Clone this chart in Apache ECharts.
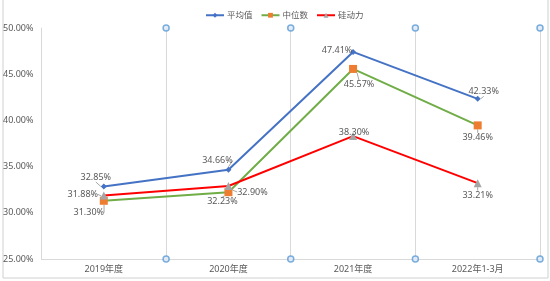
<!DOCTYPE html>
<html><head><meta charset="utf-8">
<script src="https://cdn.jsdelivr.net/npm/echarts@6/dist/echarts.min.js"></script>
<style>html,body{margin:0;padding:0;background:#fff}#c{width:550px;height:281px}</style>
</head><body><div id="c"></div>
<script>
const categories = ['2019年度', '2020年度', '2021年度', '2022年1-3月'];
const avgValues = [32.85, 34.66, 47.41, 42.33];
const medianValues = [31.30, 32.23, 45.57, 39.46];
const siliconValues = [31.88, 32.90, 38.30, 33.21];
const seriesNames = ['平均值', '中位数', '硅动力'];
const yTicks = { min: 25, max: 50, interval: 5 };
// selection handles (category boundary index, value)
const handleBoundaries = [1, 2, 3, 4];

// label offsets (style only)
const labelOffsets = {
  '平均值': [[-8,-9],[-11,-9],[-16,-1],[6,-7]],
  '中位数': [[-15,12],[-6,9],[6,16],[0,12]],
  '硅动力': [[-21,-1],[24,6],[1,-4],[0,12]]
};

const font = '"Noto Sans", "Noto Sans CJK SC", sans-serif';
const chart = echarts.init(document.getElementById('c'));

function lineSeries(name, data, lineColor, markColor, symbol, size) {
  return {
    name, type: 'line', data, xAxisIndex: 0, yAxisIndex: 0,
    symbol, symbolSize: size,
    lineStyle: { color: lineColor, width: 2 },
    itemStyle: { color: markColor },
    label: {
      show: true, position: 'inside', color: '#595959', fontSize: 9, fontFamily: font,
      formatter: p => p.value.toFixed(2) + '%'
    },
    labelLine: { show: true, lineStyle: { color: '#A6A6A6', width: 1 } },
    labelLayout: p => {
      const o = labelOffsets[name][p.dataIndex];
      return { dx: o[0], dy: o[1] };
    },
    emphasis: { disabled: true },
    z: 3
  };
}

const handleData = [];
handleBoundaries.forEach(b => { handleData.push([b, yTicks.max]); handleData.push([b, yTicks.min]); });

chart.setOption({
  animation: false,
  textStyle: { fontFamily: font },
  legend: {
    data: seriesNames, top: 6, left: 200,
    itemWidth: 18, itemHeight: 6, itemGap: 8,
    textStyle: { fontSize: 8.5, color: '#595959', fontFamily: font, padding: [0, 0, 0, -2] }
  },
  grid: { left: 40, right: 10, top: 28, bottom: 22 },
  xAxis: [{
    type: 'category', data: categories, boundaryGap: true,
    axisLine: { show: true, lineStyle: { color: '#D9D9D9', width: 1 } },
    axisTick: { show: false },
    splitLine: { show: true, lineStyle: { color: '#D9D9D9', width: 1 } },
    axisLabel: { color: '#595959', fontSize: 9, margin: 6, fontFamily: font }
  }, {
    type: 'value', min: 0, max: 4, show: false
  }],
  yAxis: {
    type: 'value', min: yTicks.min, max: yTicks.max, interval: yTicks.interval,
    axisLine: { show: true, lineStyle: { color: '#D9D9D9' } },
    axisTick: { show: false },
    splitLine: { show: false },
    axisLabel: { color: '#595959', fontSize: 9, margin: 8, fontFamily: font,
      formatter: v => v.toFixed(2) + '%' }
  },
  graphic: [{
    type: 'rect', shape: { x: 3, y: -2, width: 545, height: 280 },
    style: { fill: 'none', stroke: '#D0D0D0', lineWidth: 1 }, silent: true, z: -1
  }],
  series: [
    lineSeries('平均值', avgValues, '#4472C4', '#4472C4', 'diamond', 6),
    lineSeries('中位数', medianValues, '#70AD47', '#ED7D31', 'rect', 8),
    lineSeries('硅动力', siliconValues, '#FF0000', '#A5A5A5', 'triangle', 8),
    {
      type: 'scatter', xAxisIndex: 1, yAxisIndex: 0, data: handleData,
      symbol: 'circle', symbolSize: 6, silent: true,
      itemStyle: { color: '#DDE8F7', borderColor: '#5B9BD5', borderWidth: 1.5 },
      clip: false, z: 5
    }
  ]
});
</script></body></html>
